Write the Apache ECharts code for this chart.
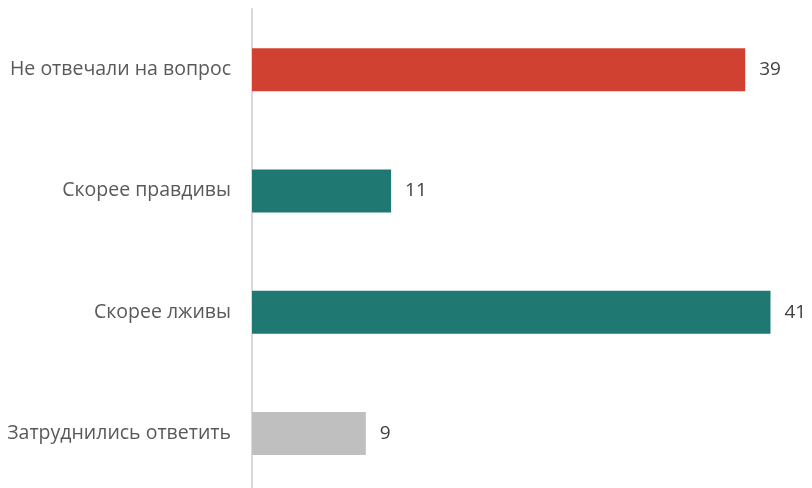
<!DOCTYPE html>
<html>
<head>
<meta charset="utf-8">
<script src="https://cdn.jsdelivr.net/npm/echarts@6/dist/echarts.min.js"></script>
<style>
  html, body { margin: 0; padding: 0; background: #fff; }
  #chart { width: 812px; height: 488px; }
</style>
</head>
<body>
<div id="chart"></div>
<script>
// категории сверху вниз
var categories = ['Не отвечали на вопрос', 'Скорее правдивы', 'Скорее лживы', 'Затруднились ответить'];
var values = [39, 11, 41, 9];
var barColors = ['#D04132', '#1F7872', '#1F7872', '#BFBFBF'];

var myChart = echarts.init(document.getElementById('chart'));

var data = [];
for (var i = 0; i < values.length; i++) {
    data.push({
        value: values[i],
        itemStyle: { color: barColors[i] }
    });
}

var option = {
    backgroundColor: '#ffffff',
    animation: false,
    grid: {
        left: 252,
        top: 9,
        width: 518.5,
        height: 485,
        outerBoundsMode: 'none',
        containLabel: false
    },
    xAxis: {
        type: 'value',
        min: 0,
        max: 41,
        show: false
    },
    yAxis: {
        type: 'category',
        inverse: true,
        data: categories,
        axisLine: { show: true, lineStyle: { color: '#D9D9D9', width: 2 } },
        axisTick: { show: false },
        axisLabel: {
            margin: 21,
            color: '#595959',
            fontSize: 19.5,
            fontFamily: 'Open Sans'
        }
    },
    series: [
        {
            type: 'bar',
            data: data,
            barWidth: 43,
            label: {
                show: true,
                position: 'right',
                distance: 14,
                color: '#404040',
                fontSize: 19,
                fontFamily: 'Open Sans'
            }
        }
    ]
};
myChart.setOption(option);
</script>
</body>
</html>
